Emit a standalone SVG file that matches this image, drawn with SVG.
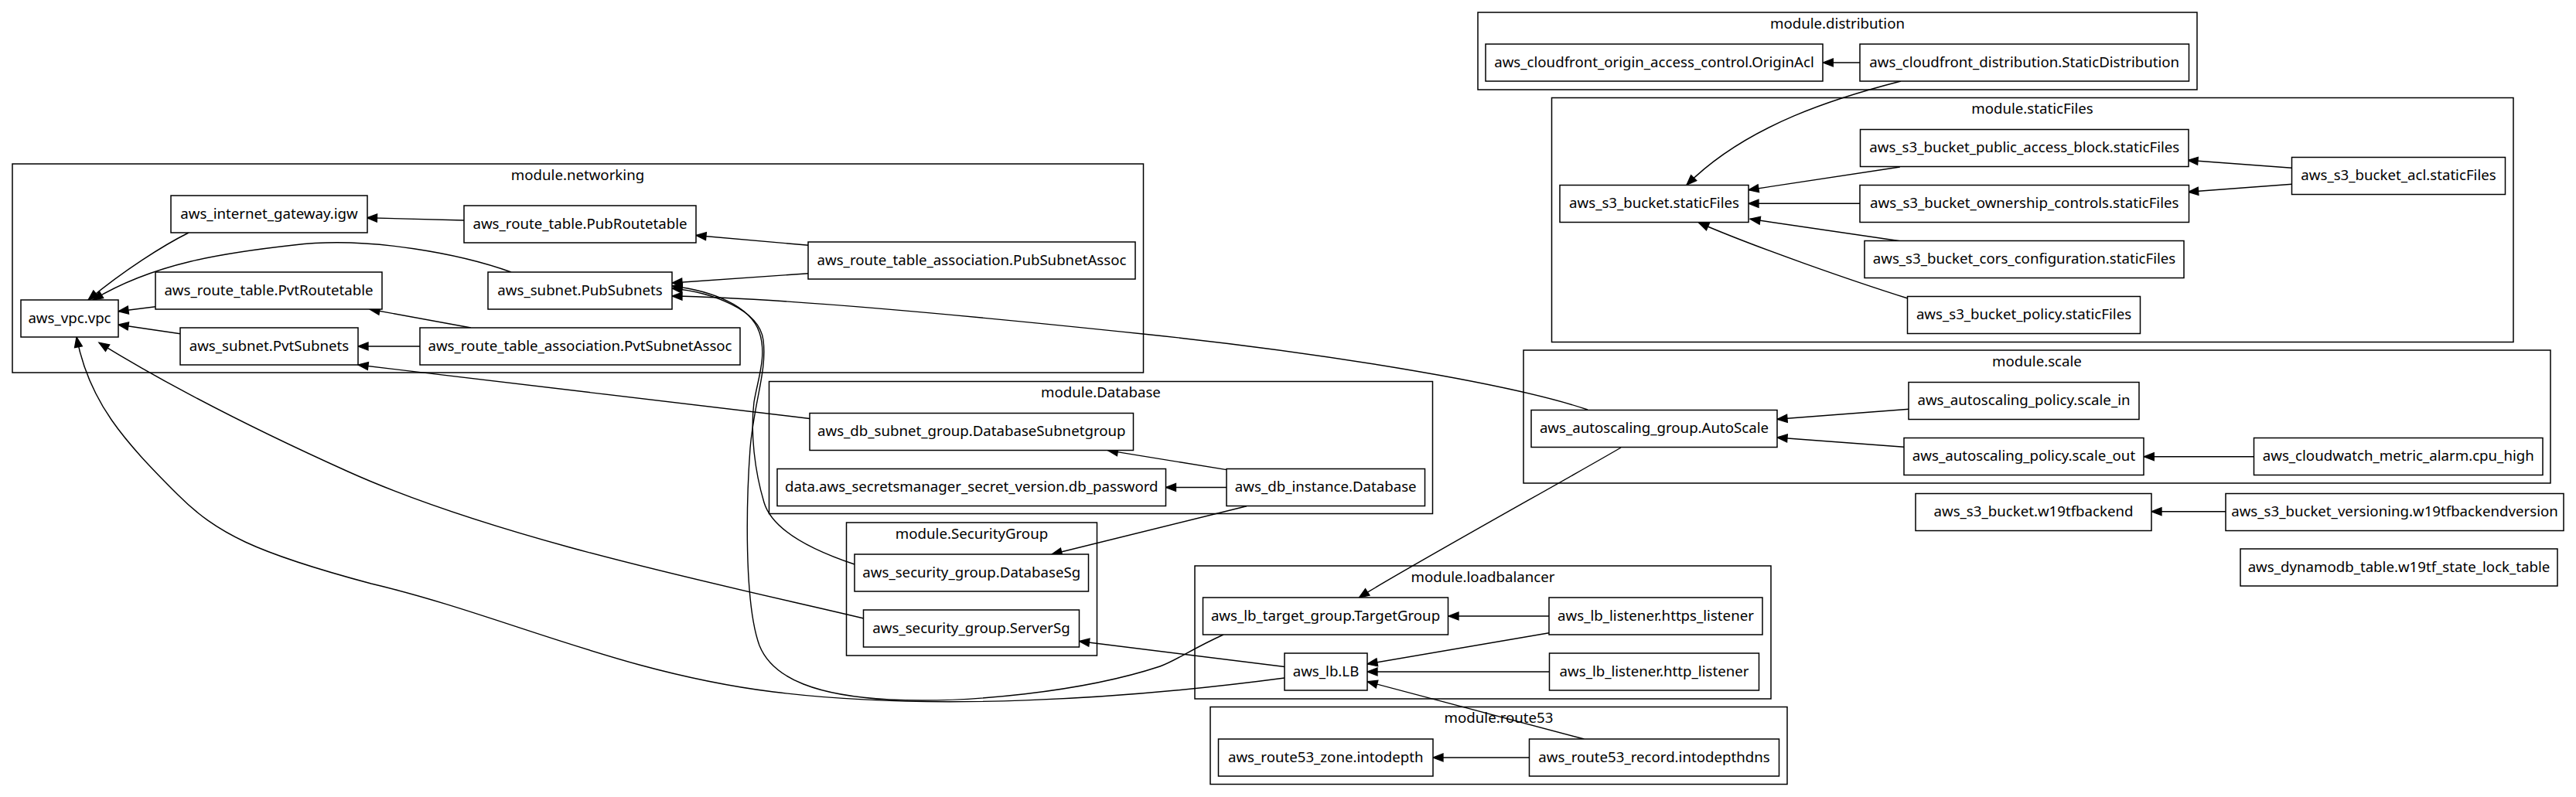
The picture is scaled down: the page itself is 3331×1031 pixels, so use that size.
<svg xmlns="http://www.w3.org/2000/svg" width="3331" height="1031" viewBox="0 0 3331 1031">
<style>
  .bg { fill: #ffffff; }
  .cluster rect { fill: none; stroke: #000; stroke-width: 1.5; }
  .node rect { fill: #ffffff; stroke: #000; stroke-width: 1.5; }
  text { font-family: "Noto Sans", "Open Sans", "DejaVu Sans", sans-serif; font-size: 18.67px; text-anchor: middle; fill: #000; }
  .edges path { fill: none; stroke: #000; stroke-width: 1.4; marker-end: url(#ah); }
</style>
<defs>
  <marker id="ah" markerUnits="userSpaceOnUse" markerWidth="16" markerHeight="12" refX="13" refY="5" orient="auto" overflow="visible">
    <path d="M0,0 L13,5 L0,10 z" fill="#000" stroke="#000" stroke-width="1.3" stroke-linejoin="miter"/>
  </marker>
</defs>
<rect class="bg" x="0" y="0" width="3331" height="1031"/>

<g id="clusters">
  <g class="cluster" id="c-networking"><rect x="16" y="212" width="1462.5" height="270"/><text x="747" y="232.5">module.networking</text></g>
  <g class="cluster" id="c-distribution"><rect x="1911" y="16" width="930" height="100"/><text x="2376" y="36.5">module.distribution</text></g>
  <g class="cluster" id="c-staticFiles"><rect x="2006.5" y="126.5" width="1243.5" height="316"/><text x="2628" y="147">module.staticFiles</text></g>
  <g class="cluster" id="c-scale"><rect x="1970" y="453" width="1328" height="172"/><text x="2634" y="473.5">module.scale</text></g>
  <g class="cluster" id="c-Database"><rect x="994.5" y="493.5" width="858" height="171"/><text x="1423.5" y="514">module.Database</text></g>
  <g class="cluster" id="c-SecurityGroup"><rect x="1094.5" y="676" width="324" height="172"/><text x="1256.5" y="696.5">module.SecurityGroup</text></g>
  <g class="cluster" id="c-loadbalancer"><rect x="1545" y="732" width="745" height="172"/><text x="1917.5" y="752.5">module.loadbalancer</text></g>
  <g class="cluster" id="c-route53"><rect x="1565" y="914.5" width="746" height="100"/><text x="1938" y="935">module.route53</text></g>
</g>

<g class="edges" id="connectors">
  <path d="M244,301 C210,318 160,350 114,388"/>
  <path d="M600,285 L474.5,281.7"/>
  <path d="M1045.4,317.3 L900,304.5"/>
  <path d="M1045.4,353.7 L869,366"/>
  <path d="M661,352 C600,330 480,305 380,317 C290,327 200,340 120,388"/>
  <path d="M201,396.7 L153,402.7"/>
  <path d="M233,431.7 L153,420"/>
  <path d="M609,424 L478,400"/>
  <path d="M543,448 L463,448"/>
  <path d="M1047,541.5 L463,472"/>
  <path d="M2053,530 C1950,495 1700,455 1478,432 C1250,408 1000,385 869,383"/>
  <path d="M1105,730 C1060,715 1000,690 988,650 C976,610 970,560 975,520 C980,490 992,460 982,430 C970,395 920,376 869,370"/>
  <path d="M1582,821 C1540,840 1520,855 1500,862 C1400,895 1250,910 1150,905 C1060,900 1000,880 982,835 C962,780 965,650 970,580 C975,520 992,480 987,440 C982,400 920,378 869,373"/>
  <path d="M1117,800 C950,760 650,700 450,610 C330,556 220,500 128,443.3"/>
  <path d="M1661,877 C1450,905 1200,920 1000,895 C800,870 650,795 480,755 C330,715 280,690 230,640 C160,570 115,520 99,436"/>
  <path d="M1661,862.5 L1395.5,829.5"/>
  <path d="M1612,654.7 L1360,717"/>
  <path d="M1586,607.6 L1432.4,582.6"/>
  <path d="M1586,630.5 L1507.5,630.5"/>
  <path d="M2096,579 C2040,612 1800,745 1757.4,773"/>
  <path d="M2003,797 L1873,797"/>
  <path d="M2003,818.7 L1768,859"/>
  <path d="M2003.5,869 L1768,869"/>
  <path d="M2048.4,956 L1768,881.7"/>
  <path d="M1977.5,980 L1853,980"/>
  <path d="M2405,81 L2357.3,81"/>
  <path d="M2458,105 C2380,125 2260,160 2181,239.3"/>
  <path d="M2456.8,216 L2261,245.7"/>
  <path d="M2405,263.3 L2261,263.3"/>
  <path d="M2456.6,311.7 L2263,283.3"/>
  <path d="M2467,386 C2400,365 2270,320 2196.5,288"/>
  <path d="M2963.6,217.3 L2829,207.3"/>
  <path d="M2963.6,238.3 L2829.6,248.3"/>
  <path d="M2468.4,529.3 L2298,542.3"/>
  <path d="M2462,578.3 L2298,566"/>
  <path d="M2914.6,590.7 L2772.3,590.7"/>
  <path d="M2878,661.7 L2782,661.7"/>
</g>

<g id="nodes">
  <g class="node" id="aws_vpc.vpc"><rect x="27" y="388" width="126" height="48"/><text x="90" y="417.5">aws_vpc.vpc</text></g>
  <g class="node" id="aws_internet_gateway.igw"><rect x="221" y="253" width="254" height="48"/><text x="348" y="282.5">aws_internet_gateway.igw</text></g>
  <g class="node" id="aws_route_table.PubRoutetable"><rect x="600" y="266" width="300" height="48"/><text x="750" y="295.5">aws_route_table.PubRoutetable</text></g>
  <g class="node" id="aws_route_table.PvtRoutetable"><rect x="201" y="352" width="293" height="48"/><text x="347.5" y="381.5">aws_route_table.PvtRoutetable</text></g>
  <g class="node" id="aws_subnet.PubSubnets"><rect x="631" y="352" width="238" height="48"/><text x="750" y="381.5">aws_subnet.PubSubnets</text></g>
  <g class="node" id="aws_subnet.PvtSubnets"><rect x="233" y="424" width="230" height="48"/><text x="348" y="453.5">aws_subnet.PvtSubnets</text></g>
  <g class="node" id="aws_route_table_association.PvtSubnetAssoc"><rect x="543" y="424" width="414" height="48"/><text x="750" y="453.5">aws_route_table_association.PvtSubnetAssoc</text></g>
  <g class="node" id="aws_route_table_association.PubSubnetAssoc"><rect x="1045" y="313" width="423" height="48"/><text x="1256.5" y="342.5">aws_route_table_association.PubSubnetAssoc</text></g>

  <g class="node" id="aws_cloudfront_origin_access_control.OriginAcl"><rect x="1921" y="57" width="436" height="48"/><text x="2139" y="86.5">aws_cloudfront_origin_access_control.OriginAcl</text></g>
  <g class="node" id="aws_cloudfront_distribution.StaticDistribution"><rect x="2405" y="57" width="425.5" height="48"/><text x="2617.75" y="86.5">aws_cloudfront_distribution.StaticDistribution</text></g>

  <g class="node" id="aws_s3_bucket.staticFiles"><rect x="2017" y="239.5" width="244" height="48"/><text x="2139" y="269">aws_s3_bucket.staticFiles</text></g>
  <g class="node" id="aws_s3_bucket_public_access_block.staticFiles"><rect x="2405.5" y="167.5" width="424.5" height="48"/><text x="2617.75" y="197">aws_s3_bucket_public_access_block.staticFiles</text></g>
  <g class="node" id="aws_s3_bucket_ownership_controls.staticFiles"><rect x="2405" y="239.5" width="425.5" height="48"/><text x="2617.75" y="269">aws_s3_bucket_ownership_controls.staticFiles</text></g>
  <g class="node" id="aws_s3_bucket_cors_configuration.staticFiles"><rect x="2411" y="311.5" width="413" height="48"/><text x="2617.5" y="341">aws_s3_bucket_cors_configuration.staticFiles</text></g>
  <g class="node" id="aws_s3_bucket_policy.staticFiles"><rect x="2466.5" y="383.5" width="301" height="48"/><text x="2617" y="413">aws_s3_bucket_policy.staticFiles</text></g>
  <g class="node" id="aws_s3_bucket_acl.staticFiles"><rect x="2963.5" y="203.5" width="276" height="48"/><text x="3101.5" y="233">aws_s3_bucket_acl.staticFiles</text></g>

  <g class="node" id="aws_autoscaling_group.AutoScale"><rect x="1980" y="530.5" width="318" height="48"/><text x="2139" y="560">aws_autoscaling_group.AutoScale</text></g>
  <g class="node" id="aws_autoscaling_policy.scale_in"><rect x="2468" y="494.5" width="298" height="48"/><text x="2617" y="524">aws_autoscaling_policy.scale_in</text></g>
  <g class="node" id="aws_autoscaling_policy.scale_out"><rect x="2462" y="566.5" width="310" height="48"/><text x="2617" y="596">aws_autoscaling_policy.scale_out</text></g>
  <g class="node" id="aws_cloudwatch_metric_alarm.cpu_high"><rect x="2914.5" y="566.5" width="373.5" height="48"/><text x="3101.25" y="596">aws_cloudwatch_metric_alarm.cpu_high</text></g>

  <g class="node" id="aws_s3_bucket.w19tfbackend"><rect x="2477" y="638.5" width="305" height="48"/><text x="2629.5" y="668">aws_s3_bucket.w19tfbackend</text></g>
  <g class="node" id="aws_s3_bucket_versioning.w19tfbackendversion"><rect x="2878" y="638.5" width="437" height="48"/><text x="3096.5" y="668">aws_s3_bucket_versioning.w19tfbackendversion</text></g>
  <g class="node" id="aws_dynamodb_table.w19tf_state_lock_table"><rect x="2897" y="710" width="410" height="48"/><text x="3102" y="739.5">aws_dynamodb_table.w19tf_state_lock_table</text></g>

  <g class="node" id="aws_db_subnet_group.DatabaseSubnetgroup"><rect x="1047" y="534.5" width="418.5" height="48"/><text x="1256.25" y="564">aws_db_subnet_group.DatabaseSubnetgroup</text></g>
  <g class="node" id="data.aws_secretsmanager_secret_version.db_password"><rect x="1005" y="606.5" width="502.5" height="48"/><text x="1256.25" y="636">data.aws_secretsmanager_secret_version.db_password</text></g>
  <g class="node" id="aws_db_instance.Database"><rect x="1586" y="606.5" width="256.5" height="48"/><text x="1714.25" y="636">aws_db_instance.Database</text></g>

  <g class="node" id="aws_security_group.DatabaseSg"><rect x="1105" y="717" width="302.5" height="48"/><text x="1256.25" y="746.5">aws_security_group.DatabaseSg</text></g>
  <g class="node" id="aws_security_group.ServerSg"><rect x="1116.5" y="789" width="279" height="48"/><text x="1256" y="818.5">aws_security_group.ServerSg</text></g>

  <g class="node" id="aws_lb_target_group.TargetGroup"><rect x="1555.5" y="773" width="317" height="48"/><text x="1714" y="802.5">aws_lb_target_group.TargetGroup</text></g>
  <g class="node" id="aws_lb_listener.https_listener"><rect x="2003" y="773" width="276" height="48"/><text x="2141" y="802.5">aws_lb_listener.https_listener</text></g>
  <g class="node" id="aws_lb.LB"><rect x="1661" y="845" width="107" height="48"/><text x="1714.5" y="874.5">aws_lb.LB</text></g>
  <g class="node" id="aws_lb_listener.http_listener"><rect x="2003.5" y="845" width="271" height="48"/><text x="2139" y="874.5">aws_lb_listener.http_listener</text></g>

  <g class="node" id="aws_route53_zone.intodepth"><rect x="1575.5" y="956" width="277.5" height="48"/><text x="1714.25" y="985.5">aws_route53_zone.intodepth</text></g>
  <g class="node" id="aws_route53_record.intodepthdns"><rect x="1977.5" y="956" width="323" height="48"/><text x="2139" y="985.5">aws_route53_record.intodepthdns</text></g>
</g>
</svg>
